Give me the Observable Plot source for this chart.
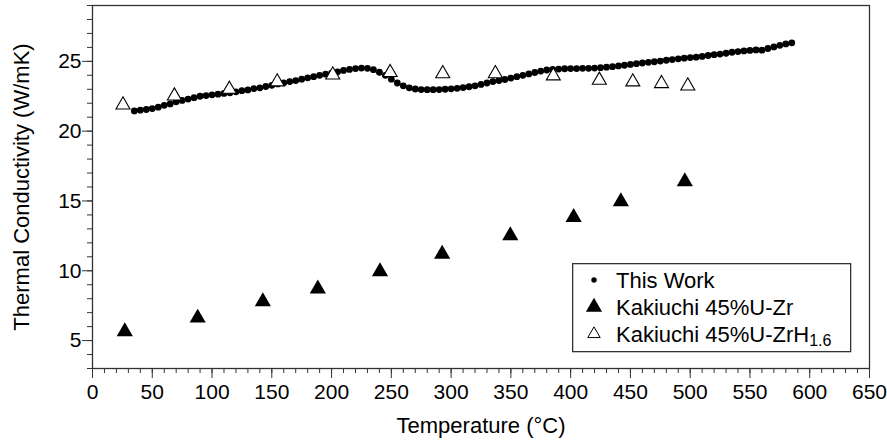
<!DOCTYPE html>
<html><head><meta charset="utf-8">
<script src="https://cdn.jsdelivr.net/npm/d3@7"></script>
<script src="https://cdn.jsdelivr.net/npm/@observablehq/plot@0.6"></script>
<style>
html,body{margin:0;padding:0;background:#fff;}
#wrap{position:relative;width:887px;height:442px;font-family:"Liberation Sans",Arial,sans-serif;}
#legend{position:absolute;left:572px;top:263px;}
</style></head>
<body><div id="wrap"><div id="chart"></div><div id="legend"></div></div>
<script>
// "This Work" series
const thisWorkT = [35,40,45,50,55,60,65,70,75,80,85,90,95,100,105,110,115,120,125,130,135,140,145,150,155,160,165,170,175,180,185,190,195,200,205,210,215,220,225,230,235,240,245,250,255,260,265,270,275,280,285,290,295,300,305,310,315,320,325,330,335,340,345,350,355,360,365,370,375,380,385,390,395,400,405,410,415,420,425,430,435,440,445,450,455,460,465,470,475,480,485,490,495,500,505,510,515,520,525,530,535,540,545,550,555,560,565,570,575,580,585];
const thisWorkK = [21.45,21.5,21.55,21.62,21.72,21.85,21.95,22.1,22.2,22.3,22.4,22.5,22.55,22.6,22.65,22.7,22.75,22.82,22.9,22.95,23.05,23.1,23.2,23.28,23.38,23.46,23.55,23.62,23.72,23.82,23.9,24.0,24.08,24.15,24.25,24.35,24.42,24.48,24.52,24.5,24.4,24.22,24.0,23.72,23.45,23.25,23.1,23.02,22.98,22.97,22.97,22.98,23.0,23.03,23.07,23.12,23.18,23.25,23.35,23.45,23.55,23.62,23.7,23.8,23.9,24.0,24.1,24.2,24.3,24.38,24.43,24.45,24.47,24.48,24.48,24.5,24.5,24.52,24.55,24.58,24.62,24.67,24.72,24.78,24.83,24.88,24.93,24.97,25.02,25.08,25.13,25.18,25.23,25.27,25.3,25.35,25.42,25.48,25.52,25.58,25.65,25.7,25.75,25.78,25.82,25.8,25.92,26.03,26.15,26.25,26.33];
// Kakiuchi 45%U-Zr
const uzrT = [27,88,142.5,188.5,240.5,292.5,349.5,402.5,442,495.5];
const uzrK = [5.64,6.62,7.79,8.7,9.94,11.2,12.52,13.83,14.95,16.38];
// Kakiuchi 45%U-ZrH1.6
const uzrhT = [25.5,68.5,114.5,154.5,201,249,293,337,385.5,424,452,476,498];
const uzrhK = [21.88,22.52,23.0,23.53,24.03,24.2,24.12,24.12,23.96,23.65,23.53,23.41,23.24];
// axis ticks
const xMajor = [0,50,100,150,200,250,300,350,400,450,500,550,600,650];
const xMinor = [0,10,20,30,40,50,60,70,80,90,100,110,120,130,140,150,160,170,180,190,200,210,220,230,240,250,260,270,280,290,300,310,320,330,340,350,360,370,380,390,400,410,420,430,440,450,460,470,480,490,500,510,520,530,540,550,560,570,580,590,600,610,620,630,640,650];
const yMajor = [5,10,15,20,25];
const yMinor = [3,4,5,6,7,8,9,10,11,12,13,14,15,16,17,18,19,20,21,22,23,24,25,26,27,28,29];
const xTitle = "Temperature (°C)";
const yTitle = "Thermal Conductivity (W/mK)";
const legendLabels = ["This Work", "Kakiuchi 45%U-Zr", "Kakiuchi 45%U-ZrH"];
const legendSub = "1.6";

const tw = thisWorkT.map((t,i)=>({t, k: thisWorkK[i]}));
const a = uzrT.map((t,i)=>({t, k: uzrK[i]}));
const b = uzrhT.map((t,i)=>({t, k: uzrhK[i]}));
const axisColor = "#333";

const chart = Plot.plot({
  width: 887, height: 442,
  marginLeft: 92, marginRight: 18, marginTop: 5, marginBottom: 74,
  style: {fontFamily: '"Liberation Sans", Arial, sans-serif', background: "#fff", color: "#000"},
  x: {domain: [0, 650]},
  y: {domain: [3, 29]},
  marks: [
    Plot.frame({stroke: axisColor, strokeWidth: 1.3}),
    Plot.axisX(xMinor, {tickSize: 5, text: null, stroke: axisColor, label: null}),
    Plot.axisX(xMajor, {tickSize: 10, tickPadding: 6, fontSize: 21, stroke: axisColor, fill: "#000", label: null}),
    Plot.axisY(yMinor, {tickSize: 5, text: null, stroke: axisColor, label: null}),
    Plot.axisY(yMajor, {tickSize: 10, tickPadding: 1, fontSize: 21, stroke: axisColor, fill: "#000", label: null}),
    Plot.dot(tw, {x: "t", y: "k", r: 3.4, fill: "#000", stroke: "none"}),
    Plot.dot(a, {x: "t", y: "k", symbol: "triangle", r: 6, fill: "#000", stroke: "none"}),
    Plot.dot(b, {x: "t", y: "k", symbol: "triangle", r: 5.2, fill: "#fff", stroke: "#000", strokeWidth: 1.1}),
    Plot.text([xTitle], {frameAnchor: "bottom", dy: 57.5, fontSize: 22, fill: "#000", textAnchor: "middle", lineAnchor: "middle"}),
    Plot.text([yTitle], {frameAnchor: "left", dx: -71, rotate: -90, fontSize: 22, fill: "#000", textAnchor: "middle", lineAnchor: "middle"})
  ]
});
document.getElementById("chart").appendChild(chart);

// legend
const W = 278, H = 88;
const lg = d3.select("#legend").append("svg").attr("width", W + 2).attr("height", H + 2)
  .style("font-family", '"Liberation Sans", Arial, sans-serif');
lg.append("rect").attr("x", 0.65).attr("y", 0.65).attr("width", W).attr("height", H)
  .attr("fill", "#fff").attr("stroke", axisColor).attr("stroke-width", 1.3);
lg.append("circle").attr("cx", 22).attr("cy", 17).attr("r", 2.7).attr("fill", "#000");
const triBig = d3.symbol(d3.symbolTriangle, Math.PI * 6 * 6)();
const triSmall = d3.symbol(d3.symbolTriangle, Math.PI * 4.6 * 4.6)();
lg.append("path").attr("d", triBig).attr("transform", "translate(22,44)").attr("fill", "#000");
lg.append("path").attr("d", triSmall).attr("transform", "translate(22,71)").attr("fill", "#fff").attr("stroke", "#000").attr("stroke-width", 1);
const baselines = [25.3, 52, 78.7];
legendLabels.forEach((s, i) => {
  const t = lg.append("text").attr("x", 44).attr("y", baselines[i]).attr("font-size", 22).attr("fill", "#000").text(s);
  if (i === 2) t.append("tspan").attr("font-size", 16).attr("dy", 4).text(legendSub);
});
</script>
</body></html>
